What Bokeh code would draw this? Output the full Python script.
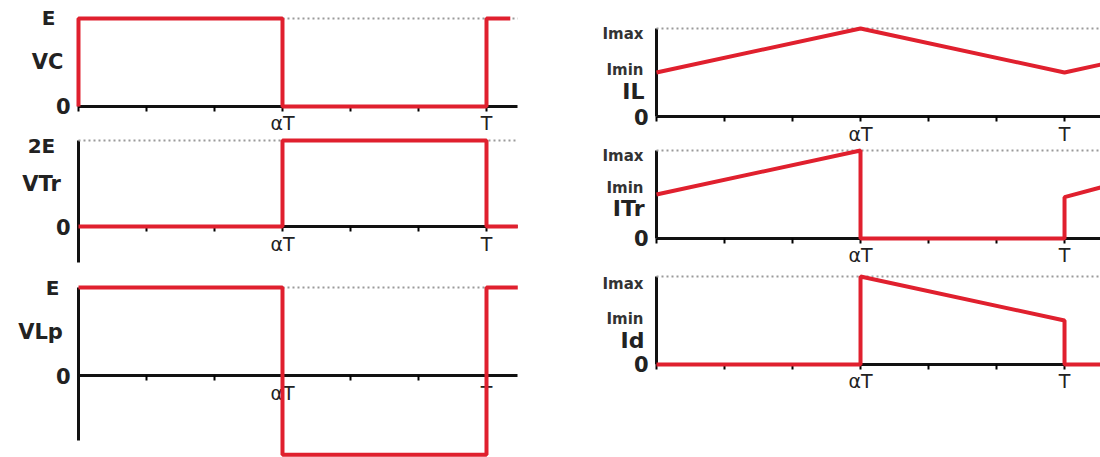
from bokeh.plotting import figure
from bokeh.layouts import row, column
from bokeh.models import Range1d, FixedTicker
from bokeh.core.properties import value
from bokeh.embed import file_html
from bokeh.resources import INLINE

# ---- data (time in tick units: alpha*T = 3, T = 6) ----
x_ticks = [0, 1, 2, 3, 4, 5, 6]
x_tick_labels = ["", "", "", "αT", "", "", "T"]

t_vc = [0, 0, 3, 3, 6, 6, 6.35]
vc = [0, 1, 1, 0, 0, 1, 1]
t_vtr = [0, 3, 3, 6, 6, 6.46]
vtr = [0, 0, 2, 2, 0, 0]
t_vlp = [0, 3, 3, 6, 6, 6.46]
vlp = [1, 1, -0.9, -0.9, 1, 1]

t_il = [0, 3, 6, 6.53]
il = [0.5, 1.0, 0.5, 0.59]
t_itr = [0, 3, 3, 6, 6, 6.53]
itr = [0.5, 1.0, 0, 0, 0.47, 0.58]
t_id = [0, 3, 3, 6, 6, 6.53]
i_d = [0, 0, 1.0, 0.5, 0, 0]

# reference (dotted) levels
ref_vc = ([3, 6.46], [1, 1])
ref_vtr = ([0, 6.46], [2, 2])
ref_vlp = ([3, 6], [1, 1])
ref_i = ([0, 6.53], [1, 1])

left_level_labels = ["E", "2E", "E"]
left_names = ["VC", "VTr", "VLp"]
right_names = ["IL", "ITr", "Id"]
imax_imin_labels = ["Imax", "Imin"]

RED = "#e0202e"
FONT = "DejaVu Sans"


def base(width, height, xr, yr, ybounds, xbounds, ylabel_size):
    p = figure(width=width, height=height, x_range=Range1d(*xr), y_range=Range1d(*yr),
               output_backend="svg", toolbar_location=None,
               min_border_left=0, min_border_right=0, min_border_top=0,
               min_border_bottom=0)
    p.outline_line_color = None
    p.grid.visible = False
    p.background_fill_color = "white"
    p.border_fill_color = "white"
    xa = p.xaxis[0]
    xa.fixed_location = 0
    xa.ticker = FixedTicker(ticks=x_ticks)
    xa.major_label_overrides = {t: l for t, l in zip(x_ticks, x_tick_labels)}
    xa.minor_tick_line_color = None
    xa.major_tick_in = 0
    xa.major_tick_out = 5
    xa.major_tick_line_width = 2
    xa.axis_line_width = 3
    xa.axis_line_color = "#111111"
    xa.major_label_text_font = FONT
    xa.major_label_text_font_size = "19px"
    xa.major_label_text_color = "#222222"
    xa.major_label_standoff = 1
    xa.bounds = xbounds
    xa.level = "underlay"
    ya = p.yaxis[0]
    ya.fixed_location = 0
    ya.ticker = FixedTicker(ticks=[0])
    ya.major_label_overrides = {0: "0"}
    ya.minor_tick_line_color = None
    ya.major_tick_line_color = None
    ya.major_tick_in = 0
    ya.major_tick_out = 0
    ya.axis_line_width = 3
    ya.axis_line_color = "#111111"
    ya.major_label_text_font = FONT
    ya.major_label_text_font_size = ylabel_size
    ya.major_label_text_font_style = "bold"
    ya.major_label_text_color = "#222222"
    ya.major_label_standoff = 8
    ya.bounds = ybounds
    ya.level = "underlay"
    return p


def dotted(p, ref):
    p.line(ref[0], ref[1], line_color="#9a9a9a", line_width=2, line_dash="2 3")


def side_text(p, y, txt, dx, size, align="center"):
    p.text(x=[0], y=[y], text=[txt], x_offset=dx, text_align=align,
           text_baseline="middle", text_font=value(FONT), text_font_size=size,
           text_font_style="bold", text_color="#222222")


# ---- left column ----
LW, LXR = 568, (-1.147, 7.206)
left_specs = [
    (133, (-0.307, 1.2045), (0, 1), ref_vc, t_vc, vc, (1.0, -30), (0.5, -31)),
    (133, (-0.93, 2.163), (-0.84, 2), ref_vtr, t_vtr, vtr, (1.88, -37), (1.0, -37)),
    (191, (-0.932, 1.239), (-0.74, 1), ref_vlp, t_vlp, vlp, (1.0, -26), (0.49, -38)),
]
left = []
for (h, yr, yb, ref, tx, ty, lvl, nm), lvl_txt, name in zip(left_specs, left_level_labels, left_names):
    p = base(LW, h, LXR, yr, yb, (0, 6.46), "21px")
    dotted(p, ref)
    p.line(tx, ty, line_color=RED, line_width=4)
    side_text(p, lvl[0], lvl_txt, lvl[1], "20px")
    side_text(p, nm[0], name, nm[1], "21px")
    left.append(p)

# ---- right column ----
RW, RXR = 532, (-1.294, 6.529)
r_specs = [
    (144, (-0.318, 1.318), t_il, il, [0.94, 0.53], 0.28),
    (124, (-0.341, 1.068), t_itr, itr, [0.94, 0.57], 0.34),
    (189, (-1.057, 1.091), t_id, i_d, [0.92, 0.52], 0.27),
]
right = []
for (h, yr, tx, ty, lab_y, name_y), name in zip(r_specs, right_names):
    p = base(RW, h, RXR, yr, (0, 1), (0, 6.53), "21px")
    dotted(p, ref_i)
    p.line(tx, ty, line_color=RED, line_width=4)
    p.text(x=[0, 0], y=lab_y, text=imax_imin_labels, x_offset=-13,
           text_align="right", text_baseline="middle", text_font=value(FONT),
           text_font_size="15px", text_font_style="bold", text_color="#333333")
    side_text(p, name_y, name, -12, "22px", align="right")
    right.append(p)

layout = row(column(*left), column(*right))
open("out.html", "w").write(file_html(layout, INLINE))
